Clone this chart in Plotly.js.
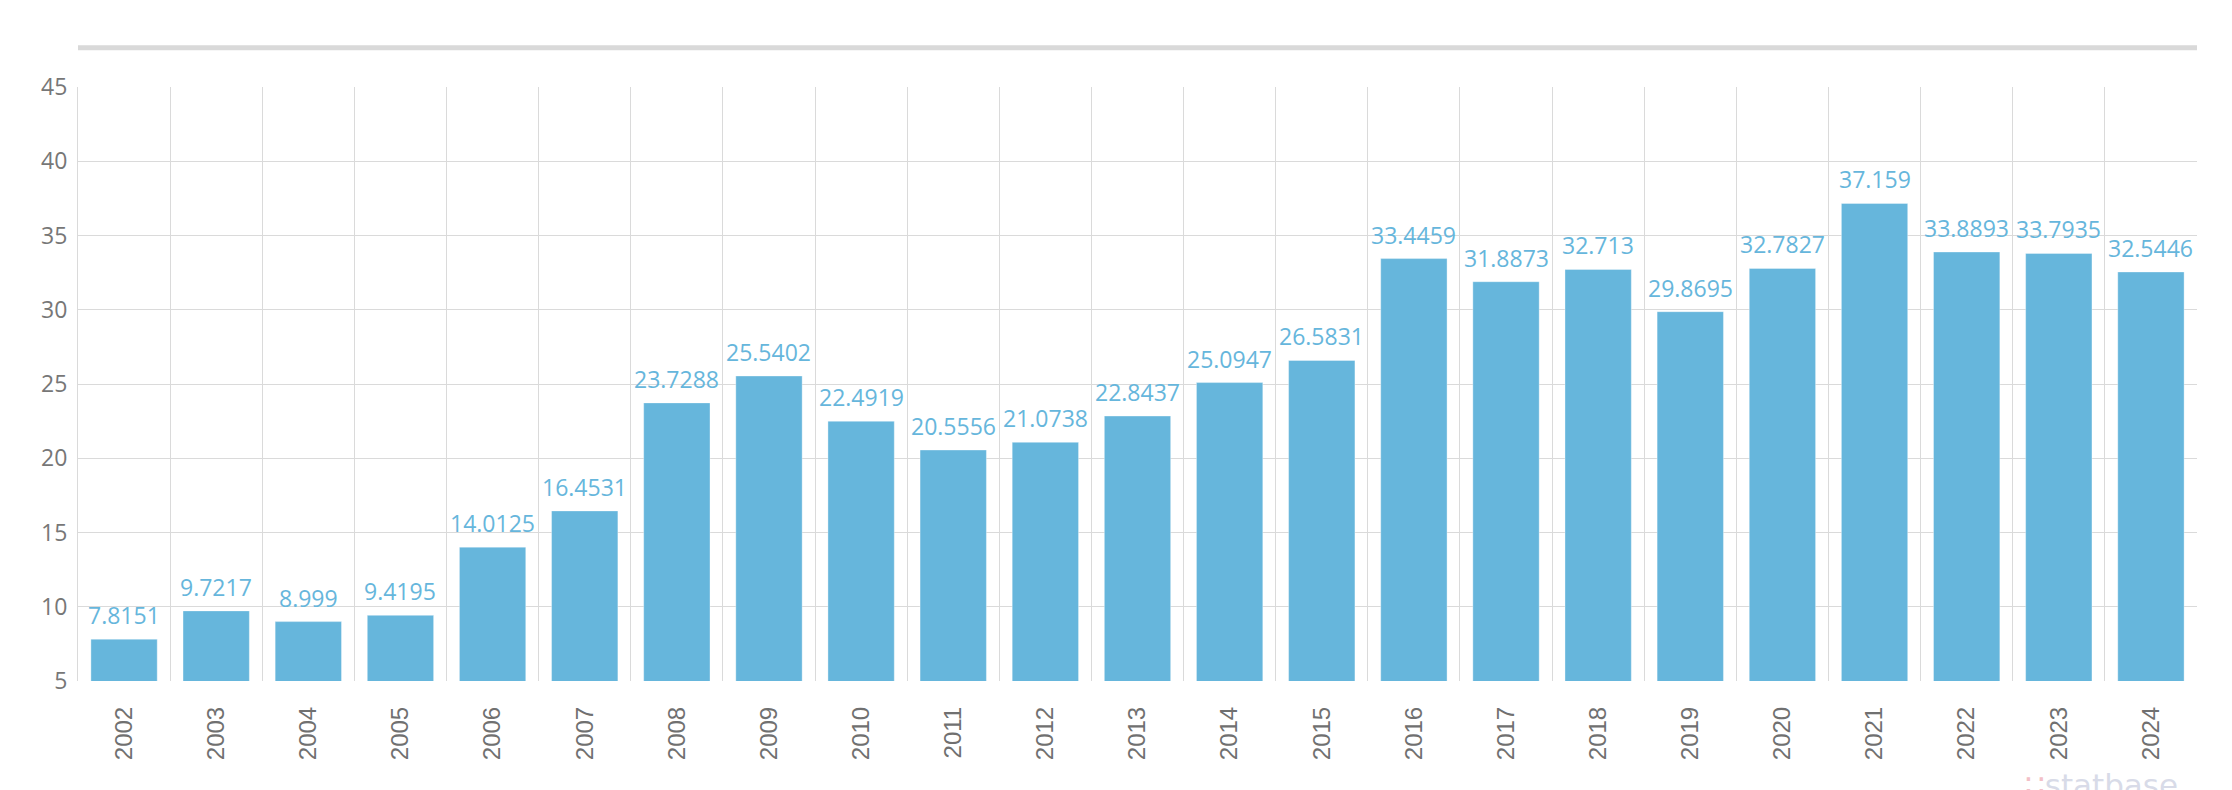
<!DOCTYPE html>
<html>
<head>
<meta charset="utf-8">
<script src="https://cdn.plot.ly/plotly-3.0.1.min.js"></script>
<style>
  html, body { margin: 0; padding: 0; background: #fff; }
  #chart { width: 2232px; height: 790px; }
</style>
</head>
<body>
<div id="chart"></div>
<script>
var years = ['2002', '2003', '2004', '2005', '2006', '2007', '2008', '2009', '2010', '2011', '2012',
  '2013', '2014', '2015', '2016', '2017', '2018', '2019', '2020', '2021', '2022', '2023', '2024'];
var values = [7.8151, 9.7217, 8.999, 9.4195, 14.0125, 16.4531, 23.7288, 25.5402, 22.4919, 20.5556, 21.0738,
  22.8437, 25.0947, 26.5831, 33.4459, 31.8873, 32.713, 29.8695, 32.7827, 37.159, 33.8893, 33.7935, 32.5446];
var yTicks = [5, 10, 15, 20, 25, 30, 35, 40, 45];

var barColor = '#66b6dc';

var data = [{
  type: 'bar',
  x: years,
  y: values,
  marker: { color: barColor, line: { color: 'rgba(255,255,255,0.35)', width: 1 } },
  hoverinfo: 'x+y'
}];

// value labels above each bar (category index, since the year names look numeric)
var labels = years.map(function (yr, i) {
  return {
    x: i,
    y: values[i],
    xref: 'x',
    yref: 'y',
    text: String(values[i]),
    showarrow: false,
    yanchor: 'bottom',
    yshift: 6,
    font: { family: 'Open Sans', size: 23, color: barColor }
  };
});

labels.push({
  xref: 'paper',
  yref: 'paper',
  x: 0.992,
  y: -0.175,
  xanchor: 'right',
  yanchor: 'middle',
  showarrow: false,
  text: "<span style='color:#f3c0c7'>∷</span>statbase",
  font: { family: 'DejaVu Sans', size: 31, color: '#d8dbe8' }
});

var layout = {
  width: 2232,
  height: 790,
  margin: { l: 78, r: 35, t: 87, b: 109 },
  paper_bgcolor: '#ffffff',
  plot_bgcolor: '#ffffff',
  showlegend: false,
  bargap: 0.28,
  xaxis: {
    type: 'category',
    range: [-0.5, years.length - 0.5],
    tickson: 'boundaries',
    showgrid: true,
    gridcolor: '#dadada',
    gridwidth: 1,
    ticks: '',
    tickangle: -90,
    ticklabelstandoff: 20,
    tickfont: { family: 'Liberation Sans', size: 24, color: '#707070' },
    zeroline: false,
    showline: false,
    fixedrange: true
  },
  yaxis: {
    range: [5, 45],
    tickvals: yTicks,
    showgrid: true,
    gridcolor: '#dadada',
    gridwidth: 1,
    zeroline: false,
    showline: true,
    linecolor: '#dadada',
    linewidth: 1,
    ticks: '',
    ticklabelstandoff: 5,
    tickfont: { family: 'Open Sans', size: 23, color: '#777777' },
    fixedrange: true
  },
  shapes: [{
    type: 'line',
    xref: 'paper',
    yref: 'paper',
    x0: 0, x1: 1,
    y0: 1.066, y1: 1.066,
    line: { color: '#d9d9d9', width: 5 }
  }],
  annotations: labels
};

Plotly.newPlot('chart', data, layout, { displayModeBar: false, staticPlot: true });
</script>
</body>
</html>
